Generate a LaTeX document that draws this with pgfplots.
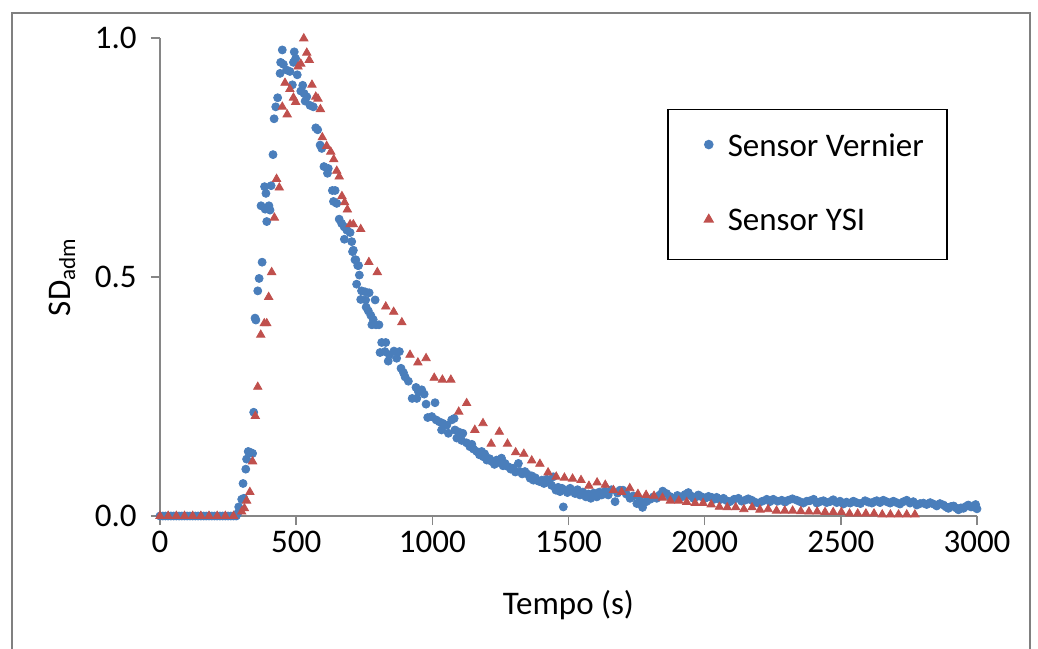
\documentclass[border=0pt]{standalone}
\usepackage{fontspec}
\setmainfont{Carlito}
\usepackage{pgfplots}
\pgfplotsset{compat=1.18}
\definecolor{vblue}{RGB}{74,126,187}
\definecolor{yred}{RGB}{192,80,77}
\definecolor{axgray}{RGB}{134,134,134}
\definecolor{frgray}{RGB}{128,128,128}
\begin{document}
\fontsize{16.5bp}{20bp}\selectfont
\begin{tikzpicture}
\path[use as bounding box] (-80bp,-66.5bp) rectangle (439bp,258bp);
\begin{axis}[
  at={(0,0)}, anchor=south west,
  scale only axis, width=408.5bp, height=239bp,
  xmin=0, xmax=3000, ymin=0, ymax=1,
  axis x line*=bottom, axis y line*=left,
  axis line style={draw=axgray, line width=0.75bp},
  tick style={draw=axgray, line width=0.75bp},
  tick align=outside, major tick length=4.5bp,
  xtick={0,500,...,3000}, ytick={0,0.5,1},
  minor tick num=0,
  clip=false,
  /pgf/number format/assume math mode=true,
  x tick label style={yshift=2.5bp, /pgf/number format/1000 sep={}},
  y tick label style={xshift=-1.5bp, /pgf/number format/.cd, fixed, fixed zerofill, precision=1},
  xlabel={Tempo (s)},
  ylabel={SD\textsubscript{adm}},
  xlabel style={at={(axis description cs:0.5,-0.186)}, anchor=center},
  ylabel style={at={(axis description cs:-0.12,0.5)}, anchor=center},
  legend style={at={(rel axis cs:0.6206,0.8515)}, anchor=north west,
    draw=black, line width=0.75bp, fill=white,
    inner xsep=9.5bp, inner ysep=10bp, row sep=20bp, column sep=0pt,
    nodes={inner sep=2bp}},
  legend cell align=left,
  legend image code/.code={\path[draw=none,fill=none] (-11bp,0bp) -- (7.5bp,0bp); \draw[#1] plot coordinates {(0bp,1.5bp)};},
]
\addplot[only marks, mark=*, mark size=2bp, color=vblue, mark options={fill=vblue, draw=vblue}] coordinates {
(0,0)(10,0)(20,0)(30,0)(40,0)(50,0)(60,0)(70,0)(80,0)(90,0)(100,0)(110,0)(120,0)(130,0)(140,0)(150,0)(160,0)(170,0)(180,0)(190,0)(200,0)(210,0)(220,0)(230,0)(240,0)(250,0)(260,0)(270,0)(280,0)
(285,0.005)(289,0.019)(300,0.035)(305,0.068)(308,0.037)(315,0.098)(318,0.119)(324,0.135)(332,0.133)(340,0.131)(344,0.217)
(349,0.414)(352,0.41)(359,0.471)(364,0.497)(371,0.649)(375,0.531)(384,0.689)(386,0.642)(389,0.675)(392,0.616)
(400,0.649)(404,0.64)(408,0.691)(415,0.756)(419,0.831)(425,0.856)(432,0.875)(441,0.926)(443,0.949)(449,0.975)(453,0.945)
(465,0.933)(477,0.93)(486,0.902)(490,0.949)(493,0.971)(498,0.957)(504,0.923)(517,0.889)(524,0.901)(529,0.884)(533,0.868)
(539,0.877)(551,0.859)(563,0.856)(572,0.812)(579,0.808)(588,0.776)(594,0.769)(602,0.731)(615,0.717)(618,0.727)
(633,0.681)(637,0.658)(643,0.681)(649,0.654)(658,0.621)(667,0.612)(676,0.605)(677,0.579)(686,0.598)(698,0.593)
(704,0.574)(707,0.553)(710,0.556)(716,0.536)(719,0.536)(722,0.485)(726,0.524)(729,0.524)(732,0.504)(737,0.453)
(740,0.471)(753,0.469)(755,0.452)(757,0.437)(765,0.429)(768,0.467)(774,0.420)(778,0.40)(783,0.411)(790,0.452)
(793,0.40)(804,0.40)(808,0.342)(814,0.363)(826,0.344)(829,0.363)(838,0.324)(842,0.337)(859,0.345)(869,0.33)(879,0.344)
(885,0.309)(894,0.30)(900,0.291)(912,0.282)(926,0.246)(940,0.269)(943,0.246)(949,0.26)(961,0.264)(970,0.255)
(977,0.234)(983,0.206)(998,0.208)(1010,0.237)(1014,0.201)(1026,0.197)(1034,0.18)(1038,0.194)(1053,0.19)(1059,0.173)
(1071,0.201)(1080,0.204)(1083,0.18)(1090,0.163)(1096,0.176)(1108,0.158)(1112,0.173)(1126,0.153)(1138,0.145)(1145,0.150)
(1151,0.14)(1163,0.135)(1173,0.128)(1181,0.135)(1187,0.124)(1192,0.130)(1200,0.117)(1210,0.120)(1218,0.114)(1228,0.108)
(1236,0.117)(1245,0.112)(1254,0.121)(1260,0.105)(1267,0.11)(1279,0.103)(1288,0.098)(1297,0.10)(1305,0.092)(1316,0.11)
(1322,0.093)(1330,0.088)(1340,0.093)(1348,0.088)(1359,0.079)(1365,0.084)(1371,0.075)(1378,0.080)(1386,0.074)(1394,0.072)
(1402,0.075)(1410,0.068)(1420,0.077)(1430,0.070)(1438,0.064)(1444,0.082)
(1454,0.054)(1462,0.060)(1469,0.051)(1476,0.058)(1481,0.019)(1487,0.054)(1496,0.049)(1506,0.058)(1515,0.052)(1524,0.047)
(1533,0.055)(1542,0.044)(1553,0.050)(1564,0.040)(1573,0.046)(1582,0.037)(1593,0.048)(1604,0.040)(1613,0.050)(1622,0.044)
(1634,0.052)(1646,0.044)(1658,0.055)(1671,0.030)(1680,0.048)(1689,0.054)
(1700,0.054)(1712,0.046)(1726,0.037)(1738,0.042)(1751,0.026)(1762,0.033)(1772,0.018)(1786,0.030)(1800,0.035)(1812,0.040)
(1824,0.037)(1835,0.044)(1846,0.052)(1860,0.047)(1872,0.041)(1885,0.037)(1900,0.043)(1916,0.040)(1928,0.045)(1940,0.049)
(1950,0.042)(1959,0.037)(1968,0.040)(1977,0.044)(1990,0.040)(2002,0.037)(2014,0.041)(2026,0.039)(2035,0.035)(2044,0.039)
(2056,0.034)(2069,0.037)(2081,0.032)(2093,0.030)(2108,0.035)(2124,0.037)(2136,0.031)(2148,0.033)(2160,0.036)(2173,0.033)
(2185,0.029)(2197,0.027)(2212,0.031)(2228,0.035)(2240,0.030)(2252,0.035)(2268,0.031)(2283,0.033)(2295,0.029)(2307,0.033)
(2322,0.036)(2338,0.033)(2350,0.030)(2362,0.027)(2375,0.031)(2387,0.032)(2400,0.035)(2412,0.027)(2424,0.030)(2436,0.032)
(2448,0.028)(2460,0.030)(2472,0.034)(2485,0.028)(2497,0.031)(2509,0.025)(2521,0.029)(2534,0.027)(2546,0.031)(2558,0.028)
(2572,0.026)(2589,0.032)(2601,0.029)(2614,0.027)(2623,0.030)(2632,0.032)(2644,0.028)(2656,0.033)(2668,0.030)(2681,0.027)
(2693,0.031)(2705,0.028)(2717,0.025)(2730,0.030)(2742,0.033)(2754,0.027)(2766,0.030)(2779,0.023)(2791,0.026)(2803,0.027)
(2815,0.024)(2828,0.028)(2840,0.025)(2852,0.021)(2864,0.026)(2877,0.023)(2886,0.019)(2895,0.016)(2905,0.020)(2914,0.021)
(2923,0.017)(2932,0.013)(2941,0.017)(2950,0.016)(2959,0.020)(2968,0.023)(2978,0.019)(2987,0.019)(2995,0.024)(3000,0.015)
};
\addlegendentry{Sensor Vernier}
\addplot[only marks, mark=triangle*, mark size=2.4bp, color=yred, mark options={fill=yred, draw=yred}] coordinates {
(0,0)(30,0)(60,0)(90,0)(120,0)(150,0)(180,0)(210,0)(240,0)(270,0)
(300,0.009)(310,0.016)(318,0.032)(330,0.05)(340,0.114)(350,0.209)(359,0.27)(370,0.379)(383,0.403)(392,0.403)(399,0.458)(410,0.51)
(420,0.624)(428,0.705)(438,0.687)(449,0.856)(459,0.906)(467,0.840)(477,0.893)(490,0.875)(498,0.866)(507,0.94)
(517,0.946)(528,0.999)(539,0.969)(548,0.954)(558,0.902)(572,0.877)(580,0.873)(589,0.851)(596,0.792)(612,0.774)
(627,0.762)(638,0.746)(649,0.722)(658,0.710)(668,0.669)(678,0.656)(688,0.641)(698,0.610)(710,0.610)(737,0.600)
(767,0.531)(798,0.510)(829,0.438)(858,0.427)(888,0.405)(918,0.337)(947,0.321)(977,0.330)(1007,0.289)(1037,0.285)
(1068,0.285)(1097,0.218)(1126,0.236)(1156,0.180)(1186,0.194)(1216,0.151)(1246,0.176)(1276,0.151)(1306,0.133)
(1336,0.130)(1365,0.116)(1395,0.109)(1425,0.091)(1455,0.082)(1485,0.080)(1515,0.078)(1546,0.075)(1575,0.063)
(1605,0.070)(1635,0.065)(1665,0.054)(1695,0.050)(1725,0.058)(1755,0.046)(1785,0.044)(1814,0.042)(1845,0.038)
(1874,0.032)(1905,0.032)(1934,0.029)(1965,0.027)(1994,0.027)(2024,0.024)(2054,0.019)(2083,0.018)(2114,0.018)
(2144,0.014)(2174,0.018)(2203,0.013)(2233,0.014)(2264,0.011)(2294,0.011)(2323,0.011)(2353,0.010)(2383,0.009)
(2413,0.009)(2442,0.008)(2472,0.008)(2502,0.008)(2532,0.005)(2562,0.005)(2592,0.005)(2622,0.005)(2652,0.003)
(2682,0.003)(2712,0.003)(2742,0.003)(2772,0.003)
};
\addlegendentry{Sensor YSI}
\end{axis}
\draw[frgray, line width=1bp] (-74bp,-80bp) -- (-74bp,251.5bp) -- (435bp,251.5bp) -- (435bp,-80bp);
\end{tikzpicture}
\end{document}
